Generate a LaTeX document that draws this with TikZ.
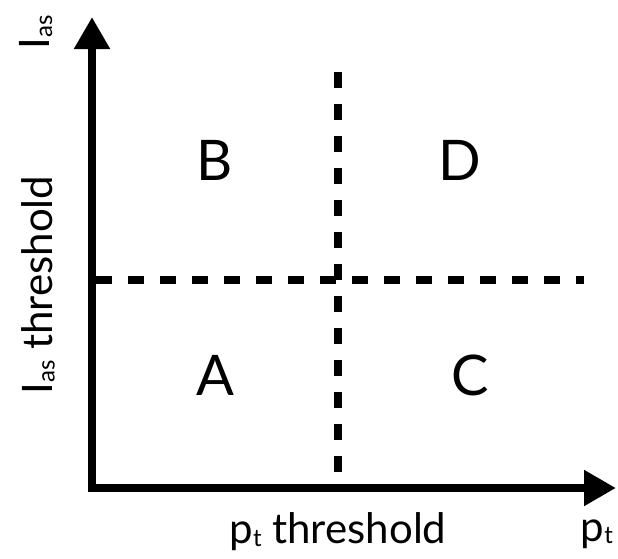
\documentclass[tikz,border=0pt]{standalone}
\usepackage{fontspec}
\setmainfont{Lato}
\usetikzlibrary{positioning,arrows.meta}
\newcommand{\lo}[1]{\raisebox{-0.06em}{\fontsize{24}{24}\selectfont #1}}

\begin{document}
\begin{tikzpicture}[
  x=1pt, y=-1pt,
  axis/.style={line width=8pt,-{Triangle[length=32pt,width=34pt]}},
  cut/.style={line width=8pt,dash pattern=on 16pt off 16pt},
  region/.style={font=\fontsize{56}{60}\selectfont},
  lbl/.style={font=\fontsize{42}{46}\selectfont,inner sep=0pt}
]
\useasboundingbox (0,0) rectangle (618,558);
% axes
\coordinate (origin) at (88,488);
\coordinate (ytip) at (92,17);
\coordinate (xtip) at (616,488);
\draw[axis] (92,492) -- (ytip);
\draw[axis] (origin) -- (xtip);
% thresholds
\coordinate (vtop) at (338,72);
\coordinate (vbot) at (338,492);
\coordinate (hleft) at (96,280);
\coordinate (hright) at (584,280);
\draw[cut] (vtop) -- (vbot);
\draw[cut] (hleft) -- (hright);
% regions
\node[region] (regB) at (215,160) {B};
\node[region] (regD) at (460,160) {D};
\node[region] (regA) at (215,375) {A};
\node[region] (regC) at (470,375) {C};
% labels
\node[lbl,rotate=90] (ylab) at (38,285) {I\lo{as} threshold};
\node[lbl,rotate=90] (yname) at (36,32) {I\lo{as}};
\node[lbl] (xlab) at (338,532) {p\lo{t} threshold};
\node[lbl] (xname) at (597,534) {p\lo{t}};
\end{tikzpicture}
\end{document}
